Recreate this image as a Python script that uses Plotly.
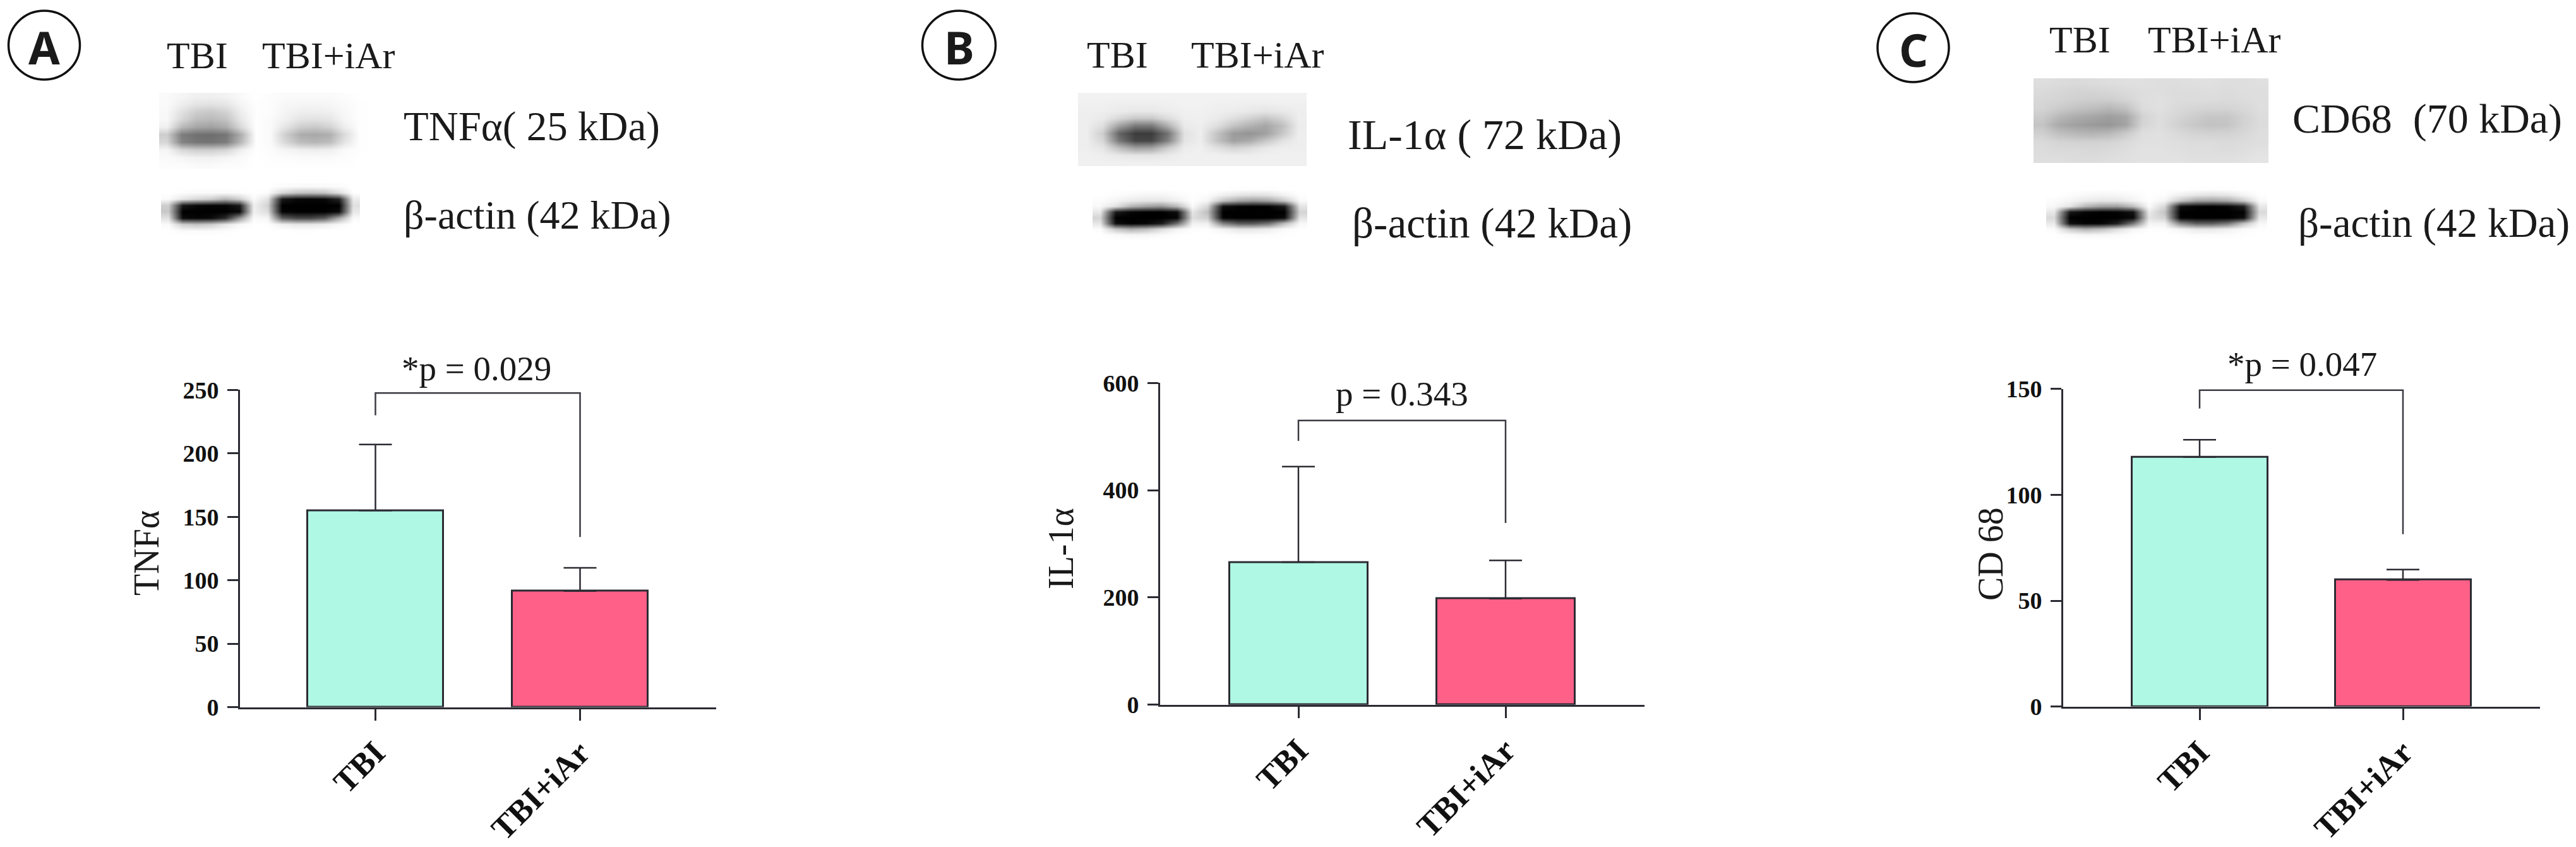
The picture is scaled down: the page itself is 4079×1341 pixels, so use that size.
import plotly.graph_objects as go

W, H = 4079, 1341
DARK = "#2b2b33"
TEAL, PINK = "#AFF8E3", "#FF6088"
SERIF = "Liberation Serif"

groups = ["TBI", "TBI+iAr"]

# ---- bar chart data ----
tnf_means = [155, 91.5]
tnf_errs = [52, 18.3]
tnf_ticks = [0, 50, 100, 150, 200, 250]
tnf_bracket = [230, 247.6, 247.6, 134]

il1_means = [266, 198]
il1_errs = [178, 71]
il1_ticks = [0, 200, 400, 600]
il1_bracket = [492, 530, 530, 339]

cd68_means = [117.8, 59.8]
cd68_errs = [8.2, 4.9]
cd68_ticks = [0, 50, 100, 150]
cd68_bracket = [140.8, 149.4, 149.4, 81.4]

# ---- blot densities, grey levels read by eye, top row first ----
blot_a_target = [
    [250, 245, 240, 240, 242, 250, 255, 252, 250, 250, 250, 250, 252, 255],
    [250, 238, 228, 225, 230, 245, 254, 252, 247, 245, 245, 246, 250, 254],
    [248, 225, 205, 200, 210, 238, 254, 252, 244, 238, 238, 240, 248, 254],
    [248, 215, 190, 185, 195, 232, 254, 250, 240, 228, 225, 230, 246, 254],
    [240, 185, 165, 160, 172, 218, 254, 250, 228, 205, 200, 210, 238, 254],
    [205, 125, 112, 110, 118, 175, 254, 250, 205, 172, 168, 175, 220, 254],
    [215, 132, 118, 115, 125, 185, 254, 250, 215, 188, 182, 190, 230, 254],
    [245, 215, 205, 205, 212, 240, 254, 252, 245, 240, 238, 240, 250, 254],
    [250, 245, 240, 240, 245, 250, 255, 253, 252, 250, 250, 250, 252, 255],
    [252, 252, 250, 250, 252, 252, 255, 254, 254, 254, 254, 254, 254, 255],
]
blot_a_actin = [
    [255, 255, 255, 255, 255, 255, 255, 255, 252, 250, 250, 250, 252, 255],
    [255, 252, 250, 250, 250, 252, 255, 252, 215, 195, 190, 195, 222, 255],
    [250, 230, 215, 205, 180, 205, 250, 225, 25, 8, 5, 8, 35, 235],
    [205, 25, 8, 5, 5, 25, 240, 210, 0, 0, 0, 0, 0, 225],
    [200, 0, 0, 0, 0, 8, 240, 220, 5, 0, 0, 0, 12, 232],
    [225, 12, 5, 10, 40, 150, 250, 245, 95, 70, 70, 90, 170, 250],
    [250, 205, 195, 205, 230, 248, 255, 254, 240, 232, 232, 238, 248, 255],
    [255, 250, 250, 250, 252, 255, 255, 255, 255, 254, 254, 255, 255, 255],
    [255, 255, 255, 255, 255, 255, 255, 255, 255, 255, 255, 255, 255, 255],
]
blot_b_target = [
    [242, 242, 242, 242, 242, 242, 242, 242, 242, 242, 242, 242, 242, 242],
    [240, 240, 238, 238, 238, 240, 242, 242, 240, 240, 238, 238, 240, 240],
    [238, 238, 235, 232, 232, 236, 240, 240, 238, 236, 232, 228, 232, 238],
    [238, 234, 215, 198, 198, 220, 238, 240, 234, 222, 208, 195, 212, 238],
    [238, 222, 160, 120, 120, 175, 234, 238, 222, 195, 178, 165, 190, 236],
    [238, 205, 100, 60, 60, 115, 225, 238, 195, 155, 148, 160, 198, 238],
    [238, 215, 118, 70, 70, 130, 228, 238, 195, 160, 170, 198, 225, 238],
    [238, 230, 190, 160, 165, 205, 236, 240, 225, 212, 220, 232, 238, 238],
    [240, 238, 232, 228, 228, 234, 240, 240, 240, 238, 238, 240, 240, 240],
    [240, 240, 240, 240, 240, 240, 240, 240, 240, 240, 240, 240, 240, 240],
]
blot_b_actin = [
    [255, 255, 255, 255, 255, 255, 255, 255, 255, 254, 254, 254, 255, 255],
    [255, 252, 248, 245, 245, 250, 255, 252, 240, 228, 225, 228, 242, 254],
    [252, 245, 235, 230, 230, 240, 254, 245, 195, 165, 155, 165, 200, 250],
    [248, 225, 180, 160, 150, 185, 250, 215, 15, 3, 0, 3, 25, 228],
    [232, 25, 5, 0, 0, 12, 230, 190, 0, 0, 0, 0, 0, 212],
    [212, 0, 0, 0, 0, 5, 222, 205, 3, 0, 0, 0, 10, 228],
    [230, 15, 0, 5, 25, 110, 242, 240, 130, 90, 90, 115, 190, 248],
    [252, 200, 175, 190, 220, 244, 254, 254, 242, 230, 230, 238, 250, 254],
    [255, 250, 245, 245, 250, 254, 255, 255, 254, 252, 252, 252, 254, 255],
    [255, 255, 255, 255, 255, 255, 255, 255, 255, 255, 255, 255, 255, 255],
]
blot_c_target = [
    [222, 220, 218, 220, 222, 224, 224, 222, 222, 224, 224, 222, 222, 224],
    [218, 215, 212, 212, 215, 218, 222, 222, 220, 220, 222, 220, 222, 222],
    [215, 212, 208, 206, 206, 212, 222, 224, 220, 220, 220, 218, 220, 222],
    [212, 204, 195, 190, 184, 194, 220, 224, 218, 214, 212, 212, 216, 222],
    [203, 184, 172, 166, 158, 166, 210, 222, 213, 205, 198, 198, 210, 220],
    [196, 170, 160, 154, 150, 164, 213, 222, 210, 200, 194, 196, 210, 220],
    [208, 192, 184, 180, 185, 202, 222, 224, 218, 212, 210, 210, 215, 222],
    [218, 212, 210, 210, 212, 218, 224, 224, 222, 220, 220, 218, 220, 222],
    [220, 218, 218, 216, 218, 222, 226, 226, 224, 222, 222, 220, 222, 226],
    [222, 222, 220, 220, 222, 224, 226, 226, 226, 224, 224, 224, 226, 228],
]
blot_c_actin = [
    [255, 255, 255, 255, 255, 255, 255, 255, 255, 254, 254, 254, 255, 255],
    [255, 252, 248, 245, 246, 250, 255, 252, 240, 230, 226, 230, 244, 254],
    [252, 245, 236, 230, 232, 242, 254, 245, 200, 165, 160, 170, 205, 250],
    [248, 228, 182, 160, 158, 190, 250, 215, 15, 3, 0, 5, 30, 232],
    [232, 22, 5, 0, 3, 18, 234, 195, 0, 0, 0, 0, 3, 218],
    [218, 0, 0, 0, 0, 8, 228, 210, 3, 0, 0, 0, 12, 232],
    [234, 15, 3, 5, 30, 120, 244, 242, 135, 95, 95, 120, 195, 248],
    [252, 202, 178, 192, 222, 245, 254, 254, 244, 232, 232, 240, 250, 254],
    [255, 250, 246, 246, 250, 254, 255, 255, 254, 252, 252, 252, 254, 255],
    [255, 255, 255, 255, 255, 255, 255, 255, 255, 255, 255, 255, 255, 255],
]


def px(x):
    return x / W


def py(y):
    return 1 - y / H


layout = dict(
    width=W, height=H, margin=dict(l=0, r=0, t=0, b=0, autoexpand=False),
    paper_bgcolor="white", plot_bgcolor="rgba(0,0,0,0)", showlegend=False,
    bargap=0, annotations=[], shapes=[],
)
fig = go.Figure()
axis_no = [0]


def next_axes():
    axis_no[0] += 1
    n = axis_no[0]
    s = "" if n == 1 else str(n)
    return s


def text(x, y, s, size, bold=False, family=SERIF, angle=0):
    layout["annotations"].append(dict(
        x=px(x), y=py(y), xref="paper", yref="paper", text=f"<b>{s}</b>" if bold else s,
        showarrow=False, xanchor="center", yanchor="middle", textangle=angle,
        font=dict(family=family, size=size, color="#1a1a1a"),
    ))


def chart(box, ymax, ticks, means, errs, bracket, c0, step, bar_w, ylabel, ylab_xy, ptext, p_xy):
    left, right, top, bottom = box
    s = next_axes()
    lo = (left - c0) / step
    hi = (right - c0) / step
    layout["xaxis" + s] = dict(
        domain=[px(left), px(right)], range=[lo, hi], anchor="y" + s, type="linear",
        tickmode="array", tickvals=[0, 1], ticktext=[f"<b>{g}</b>" for g in groups], tickangle=-45,
        ticks="outside", ticklen=18, tickwidth=2.5, tickcolor=DARK,
        showline=True, linecolor=DARK, linewidth=3, showgrid=False, zeroline=False,
        tickfont=dict(family=SERIF, size=52, color="#111"), ticklabelstandoff=0,
    )
    layout["yaxis" + s] = dict(
        domain=[py(bottom), py(top)], range=[0, ymax], anchor="x" + s,
        tickmode="array", tickvals=ticks, ticktext=[f"<b>{t}</b>" for t in ticks],
        ticks="outside", ticklen=17, tickwidth=2.5, tickcolor=DARK,
        showline=True, linecolor=DARK, linewidth=3, showgrid=False, zeroline=False,
        tickfont=dict(family=SERIF, size=38, color="#111"), ticklabelstandoff=6,
    )
    xa, ya = "x" + s, "y" + s
    fig.add_trace(go.Bar(
        x=[0, 1], y=means, width=bar_w / step, xaxis=xa, yaxis=ya,
        marker=dict(color=[TEAL, PINK], line=dict(color=DARK, width=3)),
        error_y=dict(type="data", array=errs, symmetric=False, arrayminus=[0, 0],
                     color=DARK, thickness=2.5, width=26),
    ))
    fig.add_trace(go.Scatter(
        x=[0, 0, 1, 1], y=bracket, mode="lines", xaxis=xa, yaxis=ya,
        line=dict(color="#3a3a42", width=2.5), cliponaxis=False,
    ))
    text(ylab_xy[0], ylab_xy[1], ylabel, 56, angle=-90)
    text(p_xy[0], p_xy[1], ptext, 55)


def blot(box, grid):
    left, right, top, bottom = box
    s = next_axes()
    layout["xaxis" + s] = dict(domain=[px(left), px(right)], visible=False, anchor="y" + s, fixedrange=True)
    layout["yaxis" + s] = dict(domain=[py(bottom), py(top)], visible=False, anchor="x" + s,
                               autorange="reversed", fixedrange=True)
    fig.add_trace(go.Heatmap(
        z=grid, xaxis="x" + s, yaxis="y" + s, zmin=0, zmax=255, zsmooth="best",
        colorscale=[[0, "#000000"], [1, "#ffffff"]], showscale=False, hoverinfo="skip",
    ))


def badge(cx, cy, rx, ry, letter):
    layout["shapes"].append(dict(
        type="circle", xref="paper", yref="paper", x0=px(cx - rx), x1=px(cx + rx),
        y0=py(cy + ry), y1=py(cy - ry), line=dict(color="#111", width=3.5),
    ))
    text(cx, cy + 2, letter, 72, bold=True, family="Noto Sans")


blot((252, 581, 147, 267), blot_a_target)
blot((255, 570, 290, 380), blot_a_actin)
blot((1707, 2069, 147, 263), blot_b_target)
blot((1730, 2070, 295, 385), blot_b_actin)
blot((3220, 3592, 124, 258), blot_c_target)
blot((3240, 3590, 295, 385), blot_c_actin)

chart((380, 1134, 617.4, 1119.5), 250, tnf_ticks, tnf_means, tnf_errs, tnf_bracket,
      594.5, 324, 215, "TNFα", (232, 876), "*p = 0.029", (754, 583))
chart((1837, 2604, 606.4, 1115.7), 600, il1_ticks, il1_means, il1_errs, il1_bracket,
      2056, 328, 219, "IL-1α", (1680, 869), "p = 0.343", (2220, 624))
chart((3267, 4022, 615.8, 1118.6), 150, cd68_ticks, cd68_means, cd68_errs, cd68_bracket,
      3483, 322, 215, "CD 68", (3152, 877), "*p = 0.047", (3645, 576))

badge(70, 71.5, 56.5, 54.5, "A")
badge(1518.5, 71.5, 58, 54.5, "B")
badge(3029.5, 75.5, 56.5, 54.5, "C")

for x, y, s, size in [
    (312, 88, "TBI", 60), (520, 88, "TBI+iAr", 60),
    (1769, 87, "TBI", 60), (1991, 87, "TBI+iAr", 60),
    (3293, 63, "TBI", 60), (3506, 63, "TBI+iAr", 60),
    (842, 200, "TNFα( 25 kDa)", 65), (851, 340, "β-actin (42 kDa)", 64),
    (2351, 213, "IL-1α ( 72 kDa)", 68), (2362, 353, "β-actin (42 kDa)", 67),
    (3843, 188, "CD68&nbsp;&nbsp;(70 kDa)", 66), (3854, 353, "β-actin (42 kDa)", 65),
]:
    text(x, y, s, size)

fig.update_layout(**layout)
fig.write_html(
    "out.html",
    config={"displayModeBar": False},
    post_script="document.body.style.margin='0';document.documentElement.style.overflow='hidden';",
)
